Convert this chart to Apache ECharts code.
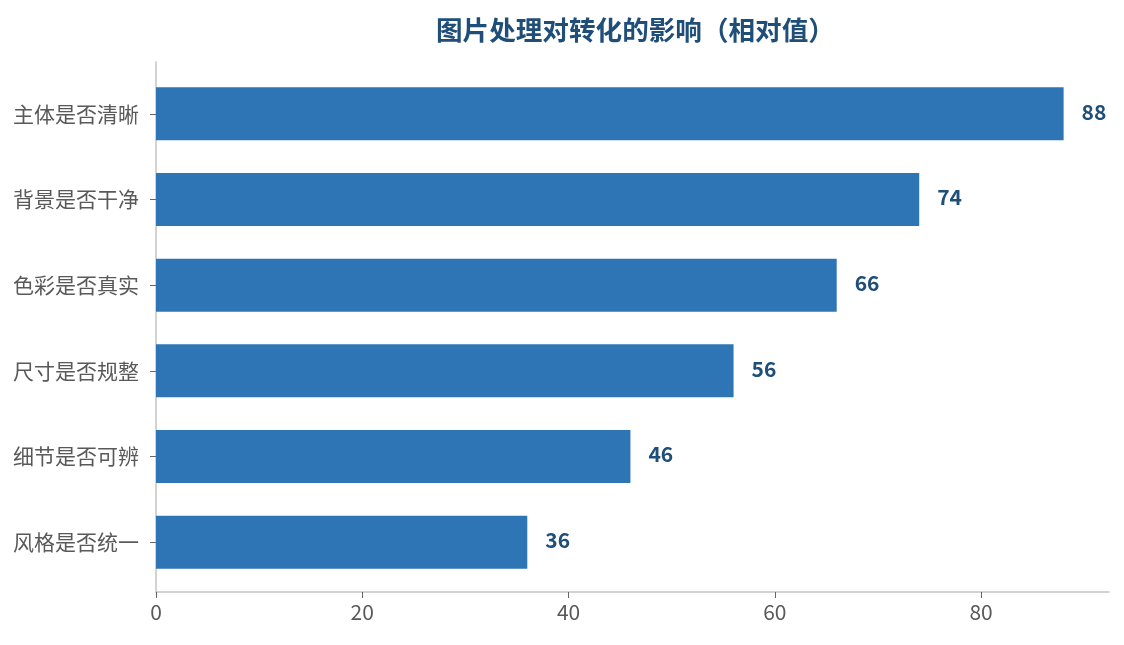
<!DOCTYPE html>
<html>
<head>
<meta charset="utf-8">
<script src="https://cdn.jsdelivr.net/npm/echarts@6/dist/echarts.min.js"></script>
<style>
  html, body { margin: 0; padding: 0; background: #fff; }
  #main { width: 1124px; height: 645px; }
</style>
</head>
<body>
<div id="main"></div>
<script>
// 图片处理对转化的影响
var categories = ['主体是否清晰', '背景是否干净', '色彩是否真实', '尺寸是否规整', '细节是否可辨', '风格是否统一'];
var values = [88, 74, 66, 56, 46, 36];
var xTicks = [0, 20, 40, 60, 80];

var fontCJK = '"Noto Sans CJK SC", "Microsoft YaHei", sans-serif';
var xMax = Math.max.apply(null, values) * 1.05;

var chart = echarts.init(document.getElementById('main'));
chart.setOption({
    title: {
        text: '图片处理对转化的影响（相对值）',
        left: 431,
        top: 12,
        textStyle: {
            color: '#1f4e79',
            fontFamily: fontCJK,
            fontSize: 26.6,
            fontWeight: 'bold'
        }
    },
    grid: [
        // 外框：坐标轴线
        { left: 156, right: 15, top: 62, bottom: 53 },
        // 条形
        { left: 156, right: 15, top: 71, bottom: 60 }
    ],
    xAxis: [
        {
            gridIndex: 0,
            type: 'value',
            min: 0,
            max: xMax,
            splitLine: { show: false },
            axisLine: { show: true, lineStyle: { color: '#c4c4c4', width: 1.5 } },
            axisTick: { show: true, length: 6, lineStyle: { color: '#666' }, customValues: xTicks },
            axisLabel: {
                color: '#595959',
                fontFamily: fontCJK,
                fontSize: 21,
                margin: 10,
                customValues: xTicks
            }
        },
        {
            gridIndex: 1,
            type: 'value',
            min: 0,
            max: xMax,
            show: false
        }
    ],
    yAxis: [
        {
            gridIndex: 0,
            type: 'category',
            inverse: true,
            data: categories,
            axisLine: { show: true, lineStyle: { color: '#c4c4c4', width: 1.5 } },
            axisTick: { show: false },
            axisLabel: { show: false }
        },
        {
            gridIndex: 1,
            type: 'category',
            inverse: true,
            data: categories,
            axisLine: { show: false },
            axisTick: { show: true, alignWithLabel: true, length: 6, lineStyle: { color: '#666' } },
            axisLabel: {
                color: '#595959',
                fontFamily: fontCJK,
                fontSize: 21,
                margin: 17
            }
        }
    ],
    series: [
        {
            type: 'bar',
            xAxisIndex: 1,
            yAxisIndex: 1,
            data: values,
            barWidth: 53,
            itemStyle: { color: '#2e75b6' },
            label: {
                show: true,
                position: 'right',
                distance: 18,
                offset: [0, -2],
                color: '#1f4e79',
                fontFamily: fontCJK,
                fontSize: 21,
                fontWeight: 'bold'
            }
        }
    ]
});
</script>
</body>
</html>
